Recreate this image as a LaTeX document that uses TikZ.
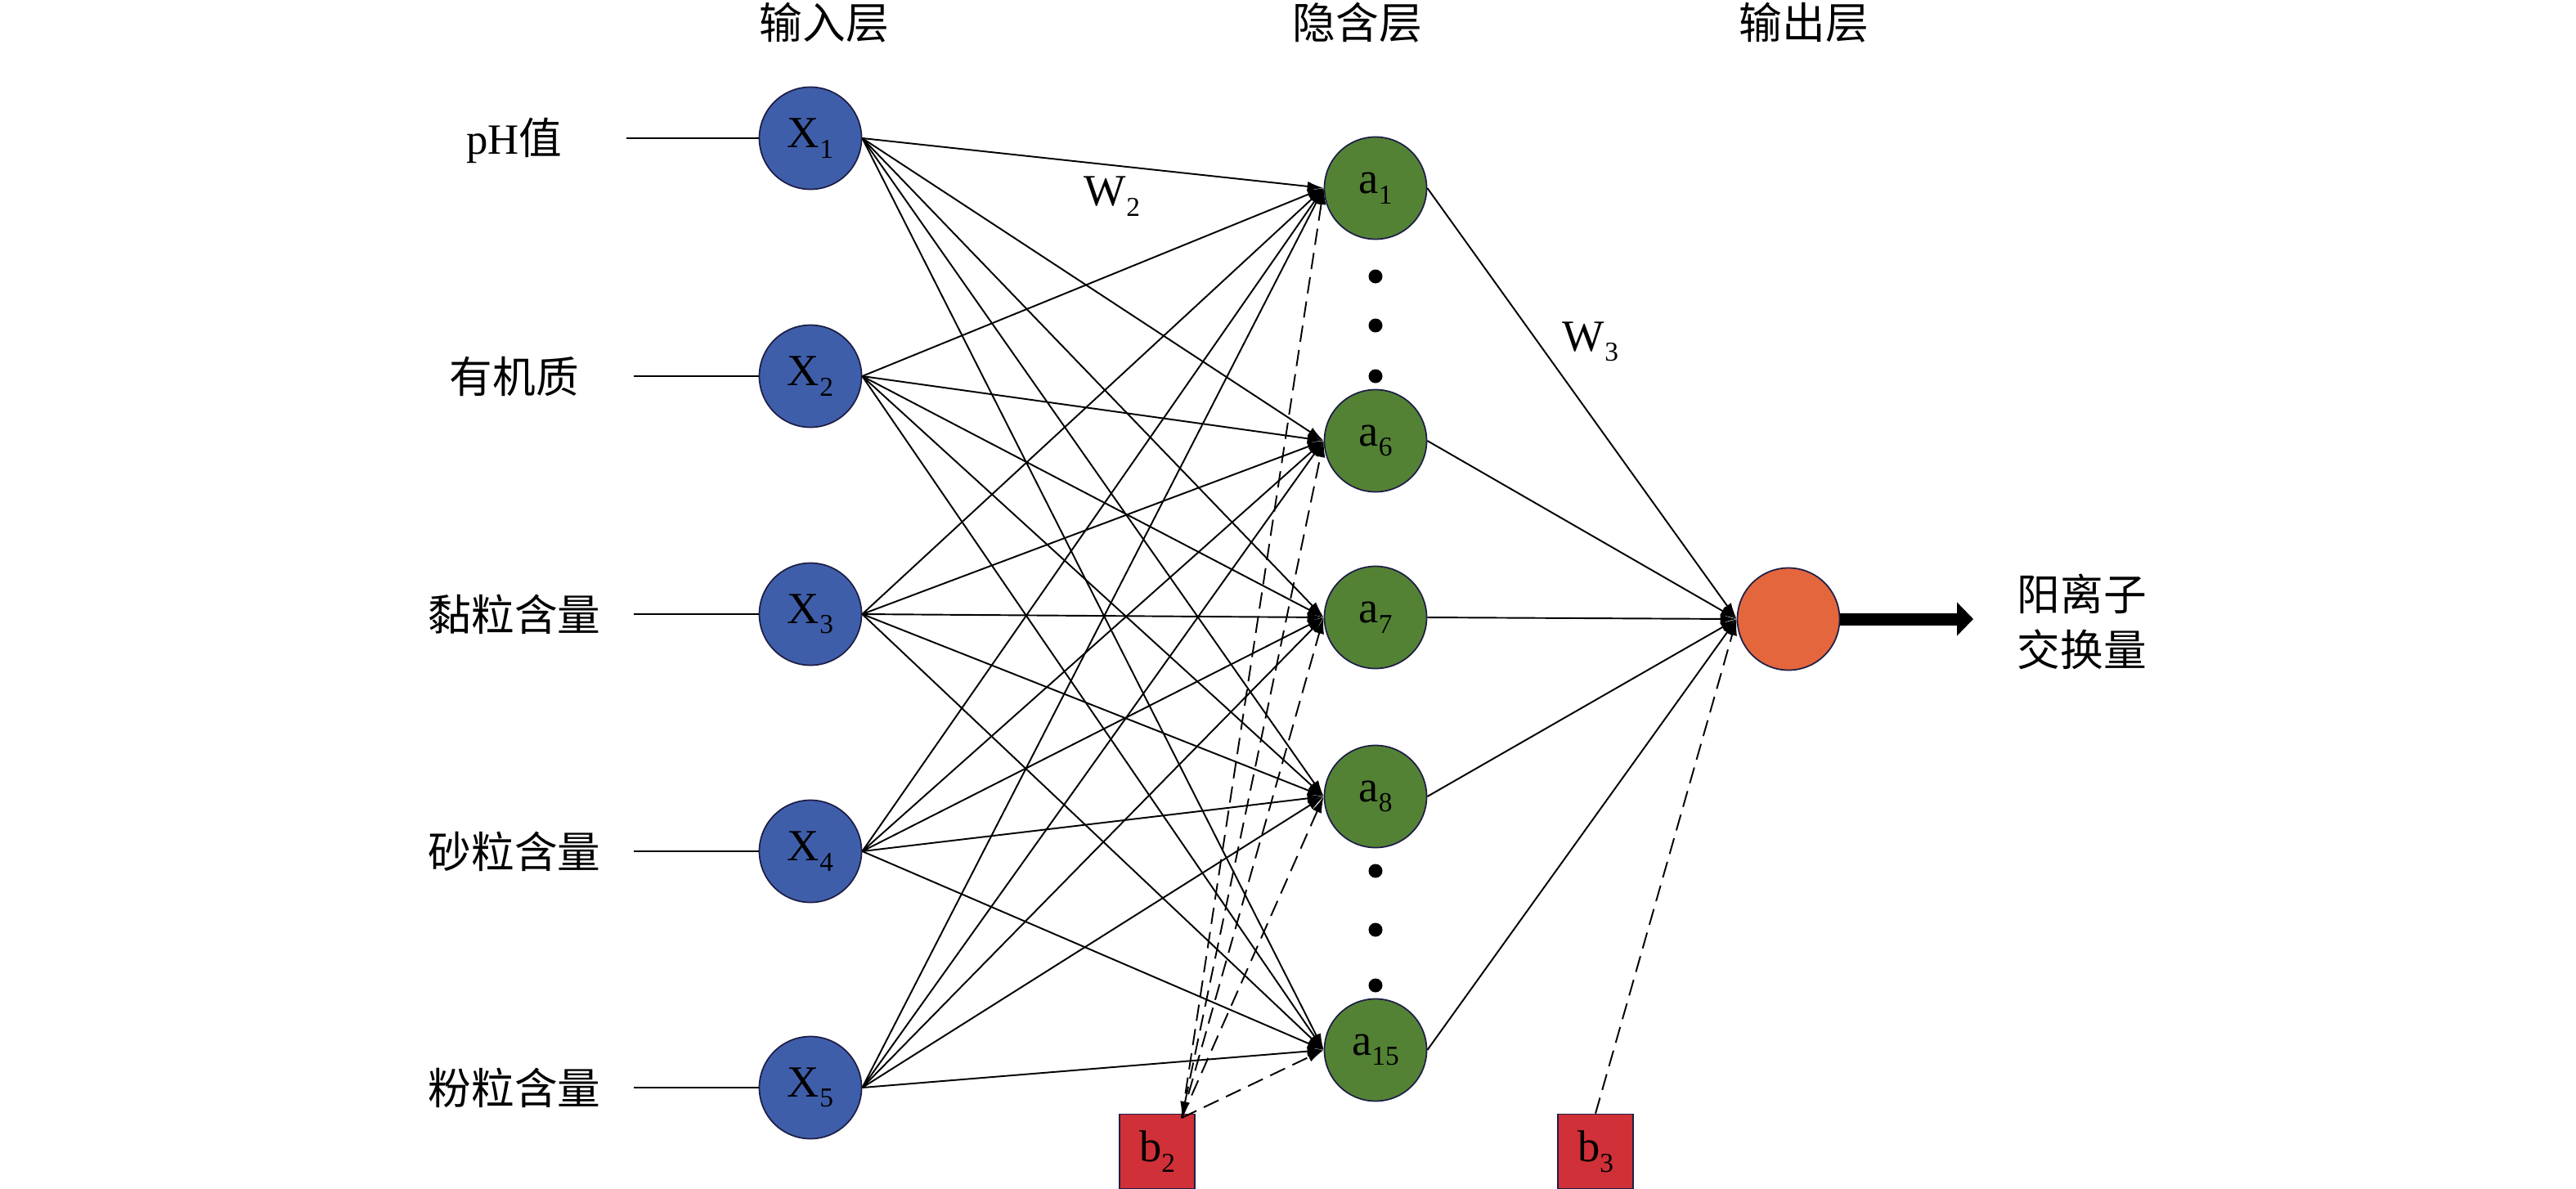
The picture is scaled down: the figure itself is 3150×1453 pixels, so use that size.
\documentclass[tikz,border=0pt]{standalone}
\usepackage{fontspec}
\setmainfont{Liberation Serif}
\newfontfamily\cjk{Noto Sans CJK SC}
\usetikzlibrary{arrows.meta}
\definecolor{cblue}{RGB}{63,94,170}
\definecolor{cgreen}{RGB}{84,130,53}
\definecolor{corange}{RGB}{228,102,60}
\definecolor{cred}{RGB}{208,48,56}
\definecolor{cedge}{RGB}{30,30,70}
\newcommand\lsub[1]{\raisebox{-0.5ex}{\fontsize{9.5}{10}\selectfont #1}}
\begin{document}
\begin{tikzpicture}[x=0.1mm,y=-0.1mm,
  neuron/.style={circle, draw=cedge, line width=0.5pt, minimum size=12.5mm, inner sep=0pt, font=\fontsize{15.5}{18}\selectfont},
  inp/.style={neuron, fill=cblue},
  hid/.style={neuron, fill=cgreen},
  outn/.style={neuron, fill=corange},
  bias/.style={rectangle, draw=cedge, line width=0.5pt, fill=cred, minimum width=9.2mm, minimum height=9.1mm, inner sep=0pt, font=\fontsize{15.5}{18}\selectfont},
  lbl/.style={inner sep=0pt, font=\fontsize{15}{18}\selectfont},
  wlbl/.style={inner sep=0pt, font=\fontsize{15.5}{18}\selectfont},
  conn/.style={line width=0.55pt, -{Latex[length=2mm,width=1.2mm]}},
  plain/.style={line width=0.6pt},
  bconn/.style={conn, dash pattern=on 2mm off 1mm},
  bigarrow/.style={line width=1.5mm, -{Triangle[length=2mm,width=4mm]}},
  dotn/.style={circle, fill=black, inner sep=0pt, minimum size=1.7mm}
]
\useasboundingbox (0,0) rectangle (3150,1453);

% headers
\node[lbl] (h1) at (1008,28) {\cjk 输入层};
\node[lbl] (h2) at (1660,28) {\cjk 隐含层};
\node[lbl] (h3) at (2206,28) {\cjk 输出层};

% input nodes
\node[inp] (x1) at (991,169) {X\lsub{1}};
\node[inp] (x2) at (991,460) {X\lsub{2}};
\node[inp] (x3) at (991,751) {X\lsub{3}};
\node[inp] (x4) at (991,1041) {X\lsub{4}};
\node[inp] (x5) at (991,1330) {X\lsub{5}};

% input labels
\node[lbl] (l1) at (629,172) {pH{\cjk 值}};
\node[lbl] (l2) at (629,460) {\cjk 有机质};
\node[lbl] (l3) at (629,751) {\cjk 黏粒含量};
\node[lbl] (l4) at (629,1041) {\cjk 砂粒含量};
\node[lbl] (l5) at (629,1330) {\cjk 粉粒含量};
\coordinate (s1) at (766,169);
\coordinate (s2) at (775,460);
\coordinate (s3) at (775,751);
\coordinate (s4) at (775,1041);
\coordinate (s5) at (775,1330);
\foreach \i in {1,...,5} \draw[plain] (s\i) -- (x\i.west);

% hidden nodes
\node[hid] (a1) at (1682,230) {a\lsub{1}};
\node[hid] (a6) at (1682,539) {a\lsub{6}};
\node[hid] (a7) at (1682,755) {a\lsub{7}};
\node[hid] (a8) at (1682,974) {a\lsub{8}};
\node[hid] (a15) at (1682,1284) {a\lsub{15}};

% dots
\node[dotn] (d1) at (1682,338) {};
\node[dotn] (d2) at (1682,398) {};
\node[dotn] (d3) at (1682,460) {};
\node[dotn] (d4) at (1682,1065) {};
\node[dotn] (d5) at (1682,1137) {};
\node[dotn] (d6) at (1682,1205) {};

% output node
\node[outn] (o) at (2187,757) {};
\coordinate (oend) at (2413,757);
\draw[bigarrow] (o.east) -- (oend);
\node[lbl, align=left, font=\fontsize{15}{19.3}\selectfont\cjk] (ol) at (2546,760) {阳离子\\交换量};

% bias nodes
\node[bias] (b2) at (1415,1408) {b\lsub{2}};
\node[bias] (b3) at (1951,1408) {b\lsub{3}};
\coordinate (b2p) at (1445,1367);

% weights labels
\node[wlbl] (w2) at (1360,240) {W\lsub{2}};
\node[wlbl] (w3) at (1945,418) {W\lsub{3}};

% connections input -> hidden
\foreach \i in {1,...,5}
  \foreach \j in {1,6,7,8,15}
    \draw[conn] (x\i.east) -- (a\j.west);

% bias b2 -> hidden
\foreach \j in {1,7,8,15}
  \draw[bconn] (b2p) -- (a\j.west);
\draw[bconn, {Latex[length=2mm,width=1.2mm]}-{Latex[length=2mm,width=1.2mm]}] (b2p) -- (a6.west);

% hidden -> output
\foreach \j in {1,6,7,8,15}
  \draw[conn] (a\j.east) -- (o.west);
\draw[bconn] (b3.north) -- (o.west);
\end{tikzpicture}
\end{document}
